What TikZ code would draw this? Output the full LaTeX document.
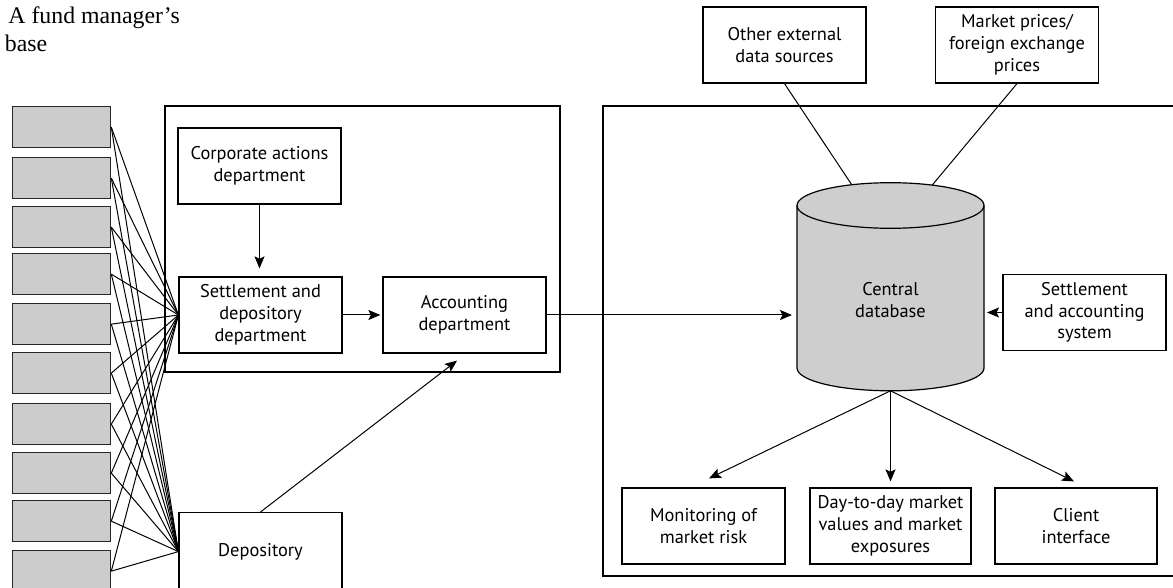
\documentclass[tikz,border=0pt]{standalone}
\usepackage{fontspec}
\setmainfont{Liberation Serif}
\newfontfamily\boxfamily{PT Sans}
\newcommand\boxfont{\boxfamily\fontsize{9.2}{10.9}\selectfont}
\usetikzlibrary{arrows.meta}
\definecolor{tabgray}{RGB}{204,204,204}
\definecolor{dbgray}{RGB}{206,206,206}

\tikzset{
  box/.style={draw, line width=0.6pt, minimum width=81.5pt, minimum height=38pt,
              inner sep=0pt, align=center, font=\boxfont},
  tab/.style={draw=black!85, fill=tabgray, line width=0.65pt,
              minimum width=49pt, minimum height=20.5pt, inner sep=0pt},
  frame/.style={draw, line width=0.6pt},
  link/.style={line width=0.5pt},
  flow/.style={link, -{Stealth[length=6pt,width=5pt,inset=1.2pt]}},
}

\begin{document}
\begin{tikzpicture}[x=0.5pt, y=0.5pt]
\useasboundingbox (0,0) rectangle (1173,-588);
\clip (0,0) rectangle (1173,-588);

% caption
\node[anchor=base west, inner sep=0pt, font=\fontsize{11.9}{14}\selectfont] (cap1) at (8,-24) {A fund manager’s};
\node[anchor=base west, inner sep=0pt, font=\fontsize{11.9}{14}\selectfont] (cap2) at (4.5,-52) {base};

% enclosing frames
\draw[frame] (165,-106) rectangle (560,-372);
\draw[frame] (1174,-106) -- (603,-106) -- (603,-576) -- (1174,-576);

% stack of grey fund boxes
\foreach \i/\t in {1/106,2/157,3/206,4/253,5/303,6/352,7/403,8/452,9/500,10/550}
  \node[tab, anchor=north west] (g\i) at (12,-\t) {};

% departments
\node[box] (corp)   at (259.5,-166) {Corporate actions\\department};
\node[box] (settle) at (260.5,-315) {Settlement and\\depository\\department};
\node[box] (acc)    at (464.5,-315) {Accounting\\department};
\node[box, anchor=north, minimum height=39pt] (dep) at (260.5,-512) {Depository};

% external sources
\node[box] (oth) at (784.5,-45) {Other external\\data sources};
\node[box] (mkt) at (1017,-45)  {Market prices/\\foreign exchange\\prices};
\node[box] (sas) at (1084.5,-312.5) {Settlement\\and accounting\\system};

% outputs
\node[box] (mon) at (703.5,-526) {Monitoring of\\market risk};
\node[box, minimum width=80.5pt] (day) at (890.5,-526) {Day-to-day market\\values and market\\exposures};
\node[box, minimum width=81pt] (cli) at (1076,-526) {Client\\interface};

% central database cylinder
\coordinate (dbT) at (890.5,-205.5);
\coordinate (dbB) at (890.5,-368);
\draw[fill=dbgray, line width=0.6pt]
  ([xshift=-46.75pt]dbT) -- ([xshift=-46.75pt]dbB)
  arc[start angle=180, end angle=360, x radius=46.75pt, y radius=11.4pt]
  -- ([xshift=46.75pt]dbT)
  arc[start angle=0, end angle=180, x radius=46.75pt, y radius=11.4pt] -- cycle;
\draw[line width=0.6pt] ([xshift=-46.75pt]dbT)
  arc[start angle=180, end angle=360, x radius=46.75pt, y radius=11.4pt];
\node[font=\boxfont, align=center, inner sep=0pt] (db) at (890.5,-300) {Central\\database};
\coordinate (dbW) at (797,-300);
\coordinate (dbE) at (984,-300);
\coordinate (dbS) at ([yshift=-11.4pt]dbB);
\coordinate (dbA) at ([shift={(114.5:46.75pt and 11.4pt)}]dbT);
\coordinate (dbC) at ([shift={(63.5:46.75pt and 11.4pt)}]dbT);

% fund boxes to settlement and depository
\foreach \i in {1,...,10} {
  \draw[link] (g\i.east) -- (settle.west);
  \draw[link] (g\i.east) -- (dep.west);
}

% flows
\draw[flow] (corp.south) -- ([yshift=4pt]corp.south |- settle.north);
\draw[flow] (settle.east) -- ([xshift=-1pt]acc.west);
\draw[flow] (dep.north) -- ([xshift=-3.75pt,yshift=-3.5pt]acc.south);
\draw[flow] (acc.east) -- ([xshift=-2.5pt]acc.east -| dbW);
\draw[flow] (sas.west) -- ([xshift=1.5pt]sas.west -| dbE);
\draw[link] (oth.south) -- (dbA);
\draw[link] (mkt.south) -- (dbC);
\draw[flow] (dbS) -- ([xshift=2.75pt,yshift=4.5pt]mon.north);
\draw[flow] (dbS) -- ([yshift=3pt]day.north);
\draw[flow] (dbS) -- ([xshift=-1pt,yshift=3pt]cli.north);
\end{tikzpicture}
\end{document}
